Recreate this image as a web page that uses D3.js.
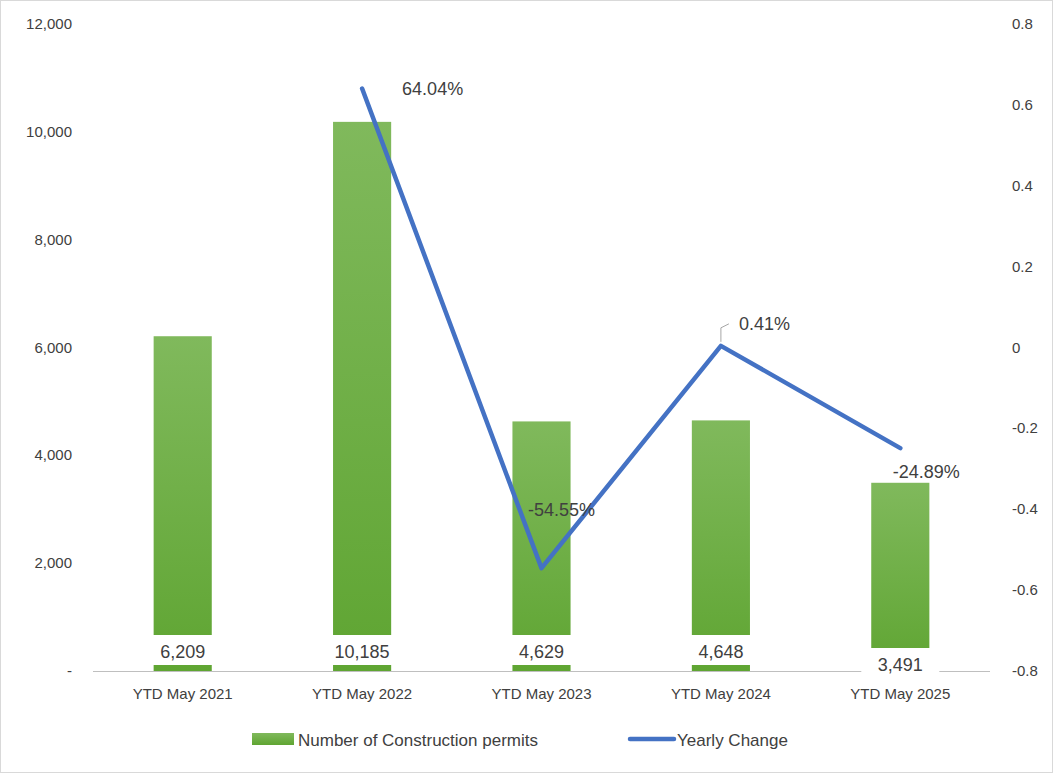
<!DOCTYPE html>
<html><head><meta charset="utf-8">
<script src="https://cdn.jsdelivr.net/npm/d3@7"></script>
<style>body{margin:0;background:#fff}text{font-family:"Liberation Sans",Arial,sans-serif;fill:#404040}</style>
</head><body><svg id="chart" width="1053" height="773"></svg>
<script>
// data
let categories = ["YTD May 2021","YTD May 2022","YTD May 2023","YTD May 2024","YTD May 2025"];
let permits = [6209, 10185, 4629, 4648, 3491];
let change = [null, 0.6404, -0.5455, 0.0041, -0.2489];
let leftTicks = [0, 2000, 4000, 6000, 8000, 10000, 12000];
let rightTicks = [-0.8, -0.6, -0.4, -0.2, 0, 0.2, 0.4, 0.6, 0.8];

let svg = d3.select("#chart");
svg.append("rect").attr("x",0.5).attr("y",0.5).attr("width",1052).attr("height",772)
    .attr("fill","#fff").attr("stroke","#d9d9d9");

let x = d3.scaleBand().domain(categories).range([93, 990]).paddingInner(0.676).paddingOuter(0.338);
let y = d3.scaleLinear().domain([0, 12000]).range([671, 24]);
let y2 = d3.scaleLinear().domain([-0.8, 0.8]).range([671, 24]);

let grad = svg.append("defs").append("linearGradient").attr("id","g")
    .attr("x1",0).attr("y1",0).attr("x2",0).attr("y2",1);
grad.append("stop").attr("offset","0%").attr("stop-color","#80b95c");
grad.append("stop").attr("offset","100%").attr("stop-color","#5fa532");

let fmt = d3.format(",");
let minus = s => s.replace("\u2212","-");
// left axis
svg.append("g").selectAll("text").data(leftTicks).join("text")
    .attr("x",72).attr("y",d=>y(d)+5).attr("text-anchor","end").attr("font-size",15)
    .text(d=>d===0?"-":fmt(d));
// right axis
svg.append("g").selectAll("text").data(rightTicks).join("text")
    .attr("x",1012).attr("y",d=>y2(d)+5).attr("text-anchor","start").attr("font-size",15)
    .text(d=>String(+d.toFixed(1)));

// bars
svg.append("g").selectAll("rect").data(permits).join("rect")
    .attr("x",(d,i)=>x(categories[i])).attr("width",x.bandwidth())
    .attr("y",d=>y(d)).attr("height",d=>y(0)-y(d)).attr("fill","url(#g)");

// baseline
svg.append("line").attr("x1",93).attr("x2",990).attr("y1",671.5).attr("y2",671.5)
    .attr("stroke","#bfbfbf");

// category labels
svg.append("g").selectAll("text").data(categories).join("text")
    .attr("x",d=>x(d)+x.bandwidth()/2).attr("y",699).attr("text-anchor","middle")
    .attr("font-size",15).text(d=>d);

// bar value labels
let vl = svg.append("g").selectAll("g").data(permits).join("g")
    .attr("transform",(d,i)=>`translate(${x(categories[i])+x.bandwidth()/2},${i===4?664:651})`);
vl.append("rect").attr("x",d=>-(fmt(d).length*5+14)).attr("y",-16)
    .attr("width",d=>fmt(d).length*10+28).attr("height",30).attr("fill","#fff");
vl.append("text").attr("text-anchor","middle").attr("y",7).attr("font-size",18)
    .text(d=>fmt(d));

// line
let pts = change.map((d,i)=>({c:categories[i],v:d})).filter(d=>d.v!==null);
let cx = d=>x(d.c)+x.bandwidth()/2;
svg.append("path").datum(pts).attr("fill","none").attr("stroke","#4472c4")
    .attr("stroke-width",4.5).attr("stroke-linejoin","round").attr("stroke-linecap","round")
    .attr("d",d3.line().x(cx).y(d=>y2(d.v)));

// leader line for 0.41%
let p3 = pts[2];
svg.append("path").attr("fill","none").attr("stroke","#a6a6a6")
    .attr("d",`M${cx(p3)},${y2(p3.v)-4}L${cx(p3)},${y2(p3.v)-18}L${cx(p3)+8},${y2(p3.v)-22}`);

// percent labels
let pOff = [[40,6,"start"],[20,-52,"middle"],[18,-16,"start"],[26,30,"middle"]];
svg.append("g").selectAll("text").data(pts).join("text")
    .attr("x",(d,i)=>cx(d)+pOff[i][0]).attr("y",(d,i)=>y2(d.v)+pOff[i][1])
    .attr("text-anchor",(d,i)=>pOff[i][2]).attr("font-size",18)
    .text(d=>minus(d3.format(".2%")(d.v)));

// legend
let lg = svg.append("g");
lg.append("rect").attr("x",252).attr("y",733).attr("width",42).attr("height",12).attr("fill","url(#g)");
lg.append("text").attr("x",298).attr("y",746).attr("font-size",17).text("Number of Construction permits");
lg.append("line").attr("x1",630).attr("x2",674).attr("y1",739).attr("y2",739)
    .attr("stroke","#4472c4").attr("stroke-width",4.5).attr("stroke-linecap","round");
lg.append("text").attr("x",677).attr("y",746).attr("font-size",17).text("Yearly Change");
</script></body></html>
